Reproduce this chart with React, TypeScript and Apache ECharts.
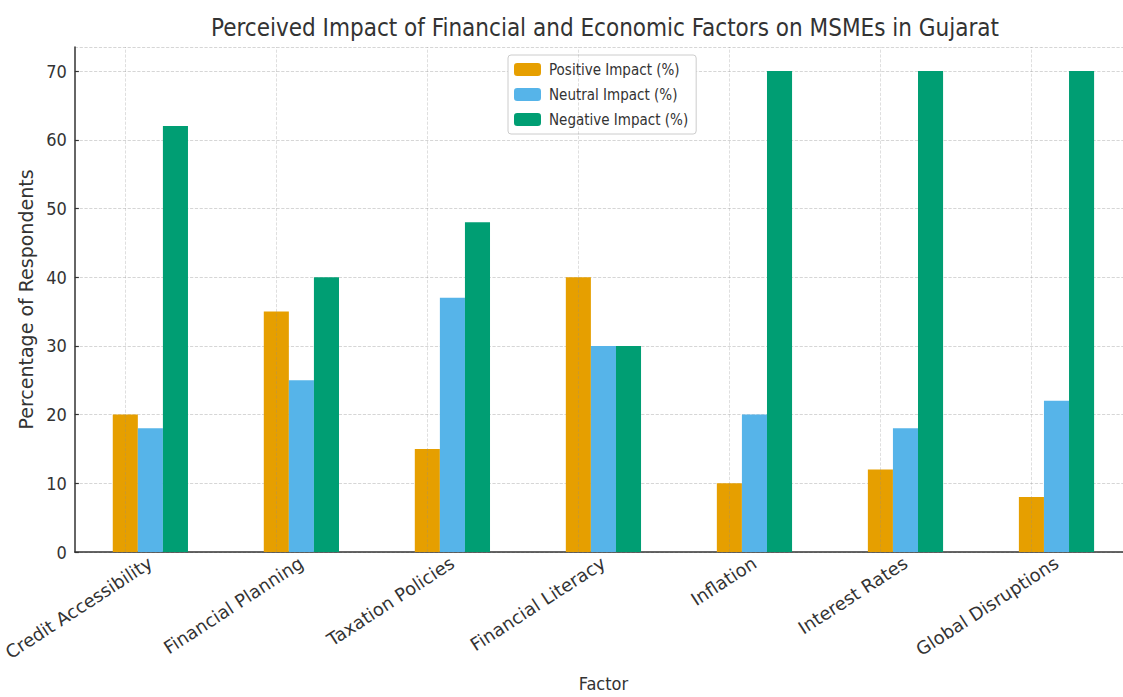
import React, { useEffect, useRef } from "react";
import * as echarts from "echarts";

const categories = [
  "Credit Accessibility",
  "Financial Planning",
  "Taxation Policies",
  "Financial Literacy",
  "Inflation",
  "Interest Rates",
  "Global Disruptions",
];
const positive = [20, 35, 15, 40, 10, 12, 8];
const neutral = [18, 25, 37, 30, 20, 18, 22];
const negative = [62, 40, 48, 30, 70, 70, 70];
const seriesNames = ["Positive Impact (%)", "Neutral Impact (%)", "Negative Impact (%)"];
const colors = ["#E69F00", "#56B4E9", "#009E73"];

const narrow = "'DejaVu Sans Condensed', 'Liberation Sans Narrow', 'Roboto Condensed', sans-serif";

export default function App() {
  const ref = useRef<HTMLDivElement>(null);
  useEffect(() => {
    const chart = echarts.init(ref.current!, null, { renderer: "svg" });
    const values = [positive, neutral, negative];
    chart.setOption({
      animation: false,
      backgroundColor: "#ffffff",
      title: {
        text: "Perceived Impact of Financial and Economic Factors on MSMEs in Gujarat",
        left: 600,
        top: 11,
        textAlign: "center",
        textStyle: {
          fontFamily: narrow,
          fontWeight: "normal",
          fontSize: 24,
          color: "#333333",
        },
      },
      legend: {
        data: seriesNames,
        orient: "vertical",
        left: 508,
        top: 55,
        itemWidth: 27,
        itemHeight: 13,
        itemGap: 10,
        padding: [7, 8, 7, 6],
        borderColor: "#cccccc",
        borderWidth: 1,
        borderRadius: 3,
        backgroundColor: "#ffffff",
        textStyle: {
          fontFamily: narrow,
          fontSize: 15,
          color: "#333333",
          padding: [0, 0, 0, 3],
        },
      },
      grid: { left: 73, top: 47, bottom: 129, right: 0, containLabel: false },
      xAxis: {
        type: "category",
        data: categories,
        name: "Factor",
        nameLocation: "middle",
        nameGap: 122,
        nameTextStyle: { fontFamily: narrow, fontSize: 18, color: "#333333" },
        axisLine: { lineStyle: { color: "#333333", width: 1.5 } },
        axisTick: { show: true, alignWithLabel: true, inside: true, length: 4, lineStyle: { color: "#333333", width: 1.2 } },
        axisLabel: {
          rotate: 33,
          margin: 9,
          interval: 0,
          fontFamily: "DejaVu Sans",
          fontSize: 18,
          color: "#333333",
        },
        splitLine: { show: false },
      },
      yAxis: {
        type: "value",
        min: 0,
        max: 73.5,
        interval: 10,
        name: "Percentage of Respondents",
        nameLocation: "middle",
        nameGap: 34,
        nameTextStyle: { fontFamily: "DejaVu Sans", fontSize: 19, color: "#333333" },
        axisLine: { show: true, lineStyle: { color: "#333333", width: 1.5 } },
        axisTick: { show: true, inside: true, length: 4, lineStyle: { color: "#333333", width: 1.2 } },
        axisLabel: {
          fontFamily: narrow,
          fontSize: 18,
          color: "#333333",
          margin: 8,
          showMaxLabel: false,
          formatter: (v: number) => (v % 10 === 0 ? String(v) : ""),
        },
        splitLine: { show: true, lineStyle: { color: "#cccccc", type: "dashed", width: 0.8 } },
      },
      series: seriesNames.map((name, i) => ({
        name,
        type: "bar",
        data: values[i],
        barWidth: "16.6%",
        barGap: "0%",
        itemStyle: { color: colors[i] },
        z: 3,
        ...(i === 0
          ? {
              markLine: {
                silent: true,
                symbol: "none",
                label: { show: false },
                lineStyle: { color: "rgba(140,140,140,0.35)", type: "dashed", width: 0.8 },
                data: categories.map((c) => ({ xAxis: c })),
                z: 5,
              },
            }
          : {}),
      })),
    });
    return () => chart.dispose();
  }, []);
  return (
    <div style={{ width: 1123, height: 697, position: "absolute", left: 0, top: 0, overflow: "hidden" }}>
      <div ref={ref} style={{ width: 1132, height: 697 }} />
    </div>
  );
}
